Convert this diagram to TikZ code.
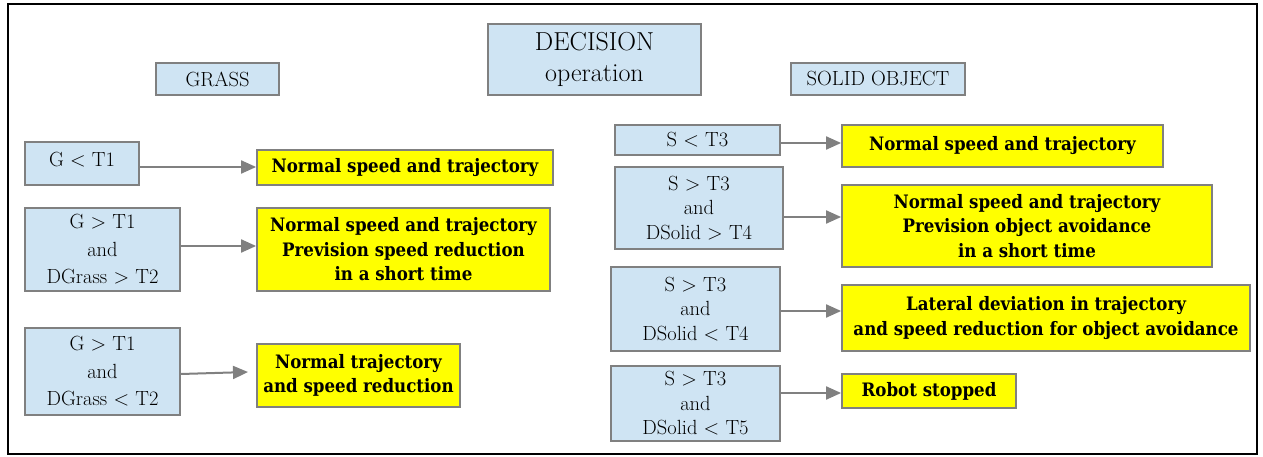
\documentclass[tikz,border=0pt]{standalone}
\usepackage{fontspec}
\newfontfamily\tnrb{DejaVu Serif Condensed}
\usetikzlibrary{arrows.meta}
\definecolor{boxblue}{RGB}{207,228,243}
\definecolor{boxgray}{RGB}{128,128,128}
\definecolor{yel}{RGB}{255,255,0}
\tikzset{
  cond/.style={draw=boxgray, line width=1.8pt, fill=boxblue, inner sep=0pt, align=center,
    font=\fontsize{20.5}{24.5}\selectfont},
  widecond/.style={cond, font=\fontsize{20.5}{27.5}\selectfont},
  act/.style={draw=boxgray, line width=1.8pt, fill=yel, inner sep=0pt, align=center,
    font=\tnrb\fontsize{18.5}{24.5}\selectfont\bfseries},
  arr/.style={draw=boxgray, line width=2pt, -{Triangle[length=15pt,width=13pt]}},
  sz/.style n args={2}{minimum width=#1pt, minimum height=#2pt}
}
\begin{document}
\begin{tikzpicture}[x=1pt,y=-1pt]
\useasboundingbox (0,0) rectangle (1263,457);
\draw[line width=2pt, black] (8,4) rectangle (1257,454);

\node[cond, sz={213}{71}, font=\fontsize{26}{31}\selectfont] (decision) at (594.5,59.5) {DECISION\\operation};
\node[cond, sz={123}{32}] (grass) at (217.5,79) {GRASS};
\node[cond, sz={174}{32}] (solid) at (878,79) {SOLID OBJECT};

% grass side
\node[cond, sz={114}{43}] (g1) at (82,163.5) {G < T1\rule[-9pt]{0pt}{0pt}};
\node[act, sz={296}{35}] (y1) at (405,167.5) {Normal speed and trajectory};
\node[widecond, sz={155}{83}] (g2) at (102.5,249.5) {G > T1\\and\\DGrass > T2};
\node[act, sz={293}{83}] (y2) at (403.5,249.5) {Normal speed and trajectory\\Prevision speed reduction\\in a short time};
\node[widecond, sz={155}{87}] (g3) at (102.5,371.5) {G > T1\\and\\DGrass < T2};
\node[act, sz={203}{63}] (y3) at (358.5,375.5) {Normal trajectory\\and speed reduction};

\coordinate (ag1) at (0,167);
\coordinate (ag2) at (0,246);
\draw[arr] (g1.east |- ag1) -- (y1.west |- ag1);
\draw[arr] (g2.east |- ag2) -- (y2.west |- ag2);
\coordinate (ag3s) at (0,374);
\coordinate (ag3e) at (248,372);
\draw[arr] (g3.east |- ag3s) -- (ag3e);

% solid side
\node[cond, sz={165}{30}] (s1) at (697.5,140) {S < T3};
\node[act, sz={321}{42}] (ys1) at (1002.5,146) {Normal speed and trajectory\rule[-6pt]{0pt}{0pt}};
\node[cond, sz={168}{82}] (s2) at (699,208) {S > T3\\and\\DSolid > T4};
\node[act, sz={370}{82}] (ys2) at (1027,226) {Normal speed and trajectory\\Prevision object avoidance\\in a short time};
\node[cond, sz={169}{84}] (s3) at (695.5,309) {S > T3\\and\\DSolid < T4};
\node[act, sz={408}{66}] (ys3) at (1046,318) {Lateral deviation in trajectory\\and speed reduction for object avoidance};
\node[cond, sz={169}{75}] (s4) at (695.5,403.5) {S > T3\\and\\DSolid < T5};
\node[act, sz={174}{34}] (ys4) at (929,391) {Robot stopped};

\coordinate (as1) at (0,143);
\coordinate (as2) at (0,217);
\coordinate (as3) at (0,311);
\coordinate (as4) at (0,393);
\draw[arr] (s1.east |- as1) -- (ys1.west |- as1);
\draw[arr] (s2.east |- as2) -- (ys2.west |- as2);
\draw[arr] (s3.east |- as3) -- (ys3.west |- as3);
\draw[arr] (s4.east |- as4) -- (ys4.west |- as4);
\end{tikzpicture}
\end{document}
